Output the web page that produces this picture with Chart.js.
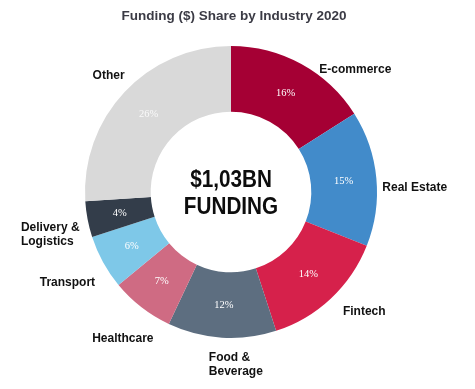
<!DOCTYPE html>
<html>
<head>
<meta charset="utf-8">
<script src="https://cdn.jsdelivr.net/npm/chart.js@4"></script>
<style>
  html, body { margin: 0; padding: 0; background: #fff; }
  #wrap { position: relative; width: 475px; height: 389px; }
</style>
</head>
<body>
<div id="wrap"><canvas id="chart" width="475" height="389"></canvas></div>
<script>
const industries = ['E-commerce', 'Real Estate', 'Fintech', 'Food & Beverage', 'Healthcare', 'Transport', 'Delivery & Logistics', 'Other'];
const shares = [16, 15, 14, 12, 7, 6, 4, 26];
const sliceColors = ['#a50034', '#428bca', '#d6214b', '#5d6e80', '#cf6b83', '#7ec8e8', '#333d4a', '#d9d9d9'];
const titleText = 'Funding ($) Share by Industry 2020';
const centerLines = ['$1,03BN', 'FUNDING'];

// outer label lines + nudges from the slice's outer mid point
const labelLines = [['E-commerce'], ['Real Estate'], ['Fintech'], ['Food &', 'Beverage'], ['Healthcare'], ['Transport'], ['Delivery &', 'Logistics'], ['Other']];
const labelOffsets = [
  { dx: 18, dy: 6, align: 'left' },
  { dx: 6, dy: 9, align: 'left' },
  { dx: 12, dy: 13, align: 'left' },
  { dx: -13, dy: 27, align: 'left' },
  { dx: 12, dy: 31, align: 'right' },
  { dx: -8, dy: 20, align: 'right' },
  { dx: -8, dy: 15, align: 'right' },
  { dx: 0, dy: -16, align: 'right' }
];

const labelsPlugin = {
  id: 'labelsPlugin',
  afterDraw(chart) {
    const ctx = chart.ctx;
    const arcs = chart.getDatasetMeta(0).data;
    ctx.save();

    // title
    ctx.fillStyle = '#3b3b45';
    ctx.font = 'bold 13.5px "Liberation Sans", Arial, sans-serif';
    ctx.textAlign = 'center';
    ctx.textBaseline = 'middle';
    ctx.fillText(titleText, 234, 16);

    arcs.forEach((arc, i) => {
      const p = arc.getProps(['x', 'y', 'startAngle', 'endAngle', 'innerRadius', 'outerRadius'], true);
      const mid = (p.startAngle + p.endAngle) / 2;
      const rIn = (p.innerRadius + p.outerRadius) / 2;
      // percentage inside slice
      ctx.fillStyle = i === 7 ? 'rgba(255,255,255,0.85)' : '#ffffff';
      ctx.font = '10.5px "Liberation Serif", serif';
      ctx.textAlign = 'center';
      ctx.fillText(shares[i] + '%', p.x + Math.cos(mid) * rIn, p.y + Math.sin(mid) * rIn);

      // outer label, multi-line blocks stay left-aligned
      const o = labelOffsets[i];
      const ax = p.x + Math.cos(mid) * p.outerRadius + o.dx;
      const ay = p.y + Math.sin(mid) * p.outerRadius + o.dy;
      ctx.fillStyle = '#111111';
      ctx.font = 'bold 12px "Liberation Sans", Arial, sans-serif';
      const lines = labelLines[i];
      const blockW = Math.max(...lines.map(l => ctx.measureText(l).width));
      const left = o.align === 'right' ? ax - blockW : ax;
      ctx.textAlign = 'left';
      lines.forEach((ln, k) => {
        ctx.fillText(ln, left, ay + (k - (lines.length - 1) / 2) * 14);
      });
    });

    // center text
    const c = arcs[0];
    ctx.fillStyle = '#0d0d0d';
    ctx.font = 'bold 23px "Liberation Sans", Arial, sans-serif';
    ctx.textAlign = 'center';
    ctx.translate(c.x, c.y);
    ctx.scale(0.9, 1);
    ctx.fillText(centerLines[0], 0, -11);
    ctx.fillText(centerLines[1], 0, 16);
    ctx.restore();
  }
};

new Chart(document.getElementById('chart'), {
  type: 'doughnut',
  data: {
    labels: industries,
    datasets: [{
      data: shares,
      backgroundColor: sliceColors,
      borderWidth: 0
    }]
  },
  options: {
    responsive: false,
    animation: false,
    cutout: '55%',
    layout: { padding: { top: 46, bottom: 51, left: 80, right: 93 } },
    plugins: {
      legend: { display: false },
      tooltip: { enabled: false }
    }
  },
  plugins: [labelsPlugin]
});
</script>
</body>
</html>
